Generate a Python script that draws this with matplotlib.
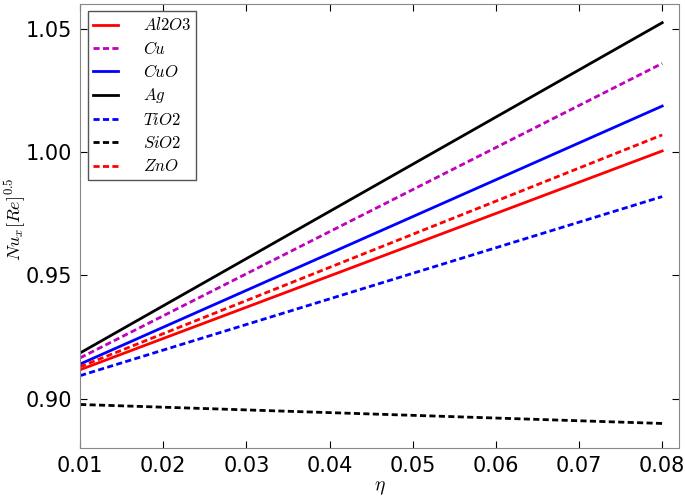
import matplotlib
matplotlib.use("Agg")
import matplotlib.pyplot as plt
import numpy as np

plt.rcParams['mathtext.fontset'] = 'cm'

# eta range (endpoints of each straight line)
eta = [0.01, 0.08]

# Nu_x [Re]^0.5 at eta = 0.01 and eta = 0.08
al2o3 = [0.9117, 1.0004]
cu = [0.9165, 1.0359]
cuo = [0.9140, 1.0186]
ag = [0.9185, 1.0524]
tio2 = [0.9093, 0.9819]
sio2 = [0.8976, 0.8899]
zno = [0.9129, 1.0069]

dash = (2.2, 1.2)

fig = plt.figure(figsize=(6.85, 4.96), dpi=100)
ax = fig.add_axes([0.117, 0.097, 0.874, 0.895])

ax.plot(eta, al2o3, color='r', lw=2, label=r'$Al2O3$')
ax.plot(eta, cu, color='m', lw=2, dashes=dash, label=r'$Cu$')
ax.plot(eta, cuo, color='b', lw=2, label=r'$CuO$')
ax.plot(eta, ag, color='k', lw=2, label=r'$Ag$')
ax.plot(eta, tio2, color='b', lw=2, dashes=dash, label=r'$TiO2$')
ax.plot(eta, sio2, color='k', lw=2, dashes=dash, label=r'$SiO2$')
ax.plot(eta, zno, color='r', lw=2, dashes=dash, label=r'$ZnO$')

ax.set_xlim(0.01, 0.082)
ax.set_ylim(0.88, 1.06)
ax.set_xticks(np.arange(0.01, 0.081, 0.01))
ax.set_yticks([0.90, 0.95, 1.00, 1.05])
ax.tick_params(direction='in', top=True, right=True, labelsize=15, length=5, pad=6)
for sp in ax.spines.values():
    sp.set_color('#888888')

ax.set_xlabel(r'$\eta$', fontsize=14)
ax.set_ylabel(r'$Nu_x[Re]^{0.5}$', fontsize=13)
ax.xaxis.set_label_coords(0.5, -0.068)
ax.yaxis.set_label_coords(-0.087, 0.515)

leg = ax.legend(loc='upper left', fontsize=12, fancybox=False, framealpha=1,
                edgecolor='#555555', handlelength=1.5, handletextpad=1.5,
                borderpad=0.3, labelspacing=0.32, borderaxespad=0.45)

fig.savefig('out.png', dpi=100)
